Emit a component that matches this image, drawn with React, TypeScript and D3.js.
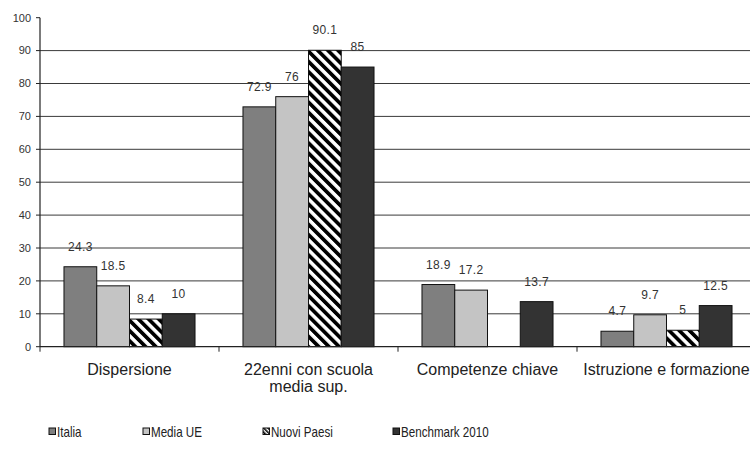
import React from "react";
import * as d3 from "d3";

const categories: string[][] = [
  ["Dispersione"],
  ["22enni con scuola", "media sup."],
  ["Competenze chiave"],
  ["Istruzione e formazione"],
];
const seriesNames = ["Italia", "Media UE", "Nuovi Paesi", "Benchmark 2010"];
const italia = [24.3, 72.9, 18.9, 4.7];
const mediaUE = [18.5, 76, 17.2, 9.7];
const nuoviPaesi: (number | null)[] = [8.4, 90.1, null, 5];
const benchmark = [10, 85, 13.7, 12.5];
const yTicks = [0, 10, 20, 30, 40, 50, 60, 70, 80, 90, 100];

const W = 750;
const H = 464;
const left = 40;
const right = 756;
const top = 17.7;
const bottom = 346.7;

const fills = ["#7f7f7f", "#c4c4c4", "url(#hatch)", "#333333"];
const font = "'Liberation Sans', Arial, sans-serif";

export default function App() {
  const series = [italia, mediaUE, nuoviPaesi, benchmark];
  const y = d3.scaleLinear().domain([0, 100]).range([bottom, top]);
  const x0 = d3
    .scaleBand<number>()
    .domain(categories.map((_, i) => i))
    .range([left, right]);
  const bw = x0.bandwidth();
  const x1 = d3
    .scaleBand<number>()
    .domain(seriesNames.map((_, i) => i))
    .range([bw * 0.134, bw * 0.866]);

  return (
    <svg
      width={W}
      height={H}
      style={{ position: "absolute", left: 0, top: 0, background: "#fff" }}
    >
      <defs>
        <pattern
          id="hatch"
          width={7.2}
          height={7.2}
          patternUnits="userSpaceOnUse"
          patternTransform="rotate(-45)"
        >
          <rect width={7.2} height={7.2} fill="#fff" />
          <line x1={1.8} y1={0} x2={1.8} y2={7.2} stroke="#000" strokeWidth={3.8} />
        </pattern>
        <pattern
          id="hatchLegend"
          width={3}
          height={3}
          patternUnits="userSpaceOnUse"
          patternTransform="rotate(-45)"
        >
          <rect width={3} height={3} fill="#fff" />
          <line x1={0.75} y1={0} x2={0.75} y2={3} stroke="#000" strokeWidth={1.6} />
        </pattern>
      </defs>

      {/* gridlines */}
      {yTicks
        .filter((t) => t > 0 && t < 100)
        .map((t) => (
          <line
            key={"g" + t}
            x1={left}
            x2={right}
            y1={y(t)}
            y2={y(t)}
            stroke="#3a3a3a"
            strokeWidth={1}
          />
        ))}

      {/* y ticks and labels */}
      {yTicks.map((t) => (
        <g key={"t" + t}>
          <line x1={left - 4} x2={left} y1={y(t)} y2={y(t)} stroke="#222" />
          <text
            x={31}
            y={y(t)}
            dy="0.35em"
            textAnchor="end"
            fontFamily={font}
            fontSize={11}
            fill="#333"
          >
            {t}
          </text>
        </g>
      ))}

      {/* bars */}
      {series.map((vals, si) =>
        vals.map((v, ci) => {
          if (v === null || v === undefined) return null;
          const bx = (x0(ci) as number) + (x1(si) as number);
          const w = x1.bandwidth();
          return (
            <g key={`b${si}-${ci}`}>
              <rect
                x={bx}
                y={y(v)}
                width={w}
                height={bottom - y(v)}
                fill={fills[si]}
                stroke="#111"
                strokeWidth={1}
              />
              <text
                x={bx + w / 2}
                y={y(v) - 16}
                textAnchor="middle"
                fontFamily={font}
                fontSize={12}
                letterSpacing={0.4}
                fill="#333"
              >
                {String(v)}
              </text>
            </g>
          );
        })
      )}

      {/* axes */}
      <line x1={left} x2={left} y1={top} y2={bottom} stroke="#222" strokeWidth={1.2} />
      <line x1={left} x2={right} y1={bottom} y2={bottom} stroke="#222" strokeWidth={1.2} />
      {categories.map((_, i) => (
        <line
          key={"ct" + i}
          x1={x0(i) as number}
          x2={x0(i) as number}
          y1={bottom}
          y2={bottom + 5}
          stroke="#222"
        />
      ))}

      {/* category labels */}
      {categories.map((lines, i) => (
        <text
          key={"c" + i}
          x={(x0(i) as number) + bw / 2}
          y={375}
          textAnchor="middle"
          fontFamily={font}
          fontSize={16}
          fill="#222"
        >
          {lines.map((l, li) => (
            <tspan key={li} x={(x0(i) as number) + bw / 2} dy={li === 0 ? 0 : 17}>
              {l}
            </tspan>
          ))}
        </text>
      ))}

      {/* legend */}
      {seriesNames.map((name, si) => {
        const lx = [49, 143, 263, 393][si];
        return (
          <g key={"l" + si}>
            <rect
              x={lx}
              y={428}
              width={6.5}
              height={6.5}
              fill={si === 2 ? "url(#hatchLegend)" : fills[si]}
              stroke="#111"
              strokeWidth={1}
            />
            <g transform={`translate(${lx + 8},437) scale(0.8,1)`}>
              <text
                x={0}
                y={0}
                fontFamily={font}
                fontSize={14.5}
                fill="#222"
              >
                {name}
              </text>
            </g>
          </g>
        );
      })}
    </svg>
  );
}
